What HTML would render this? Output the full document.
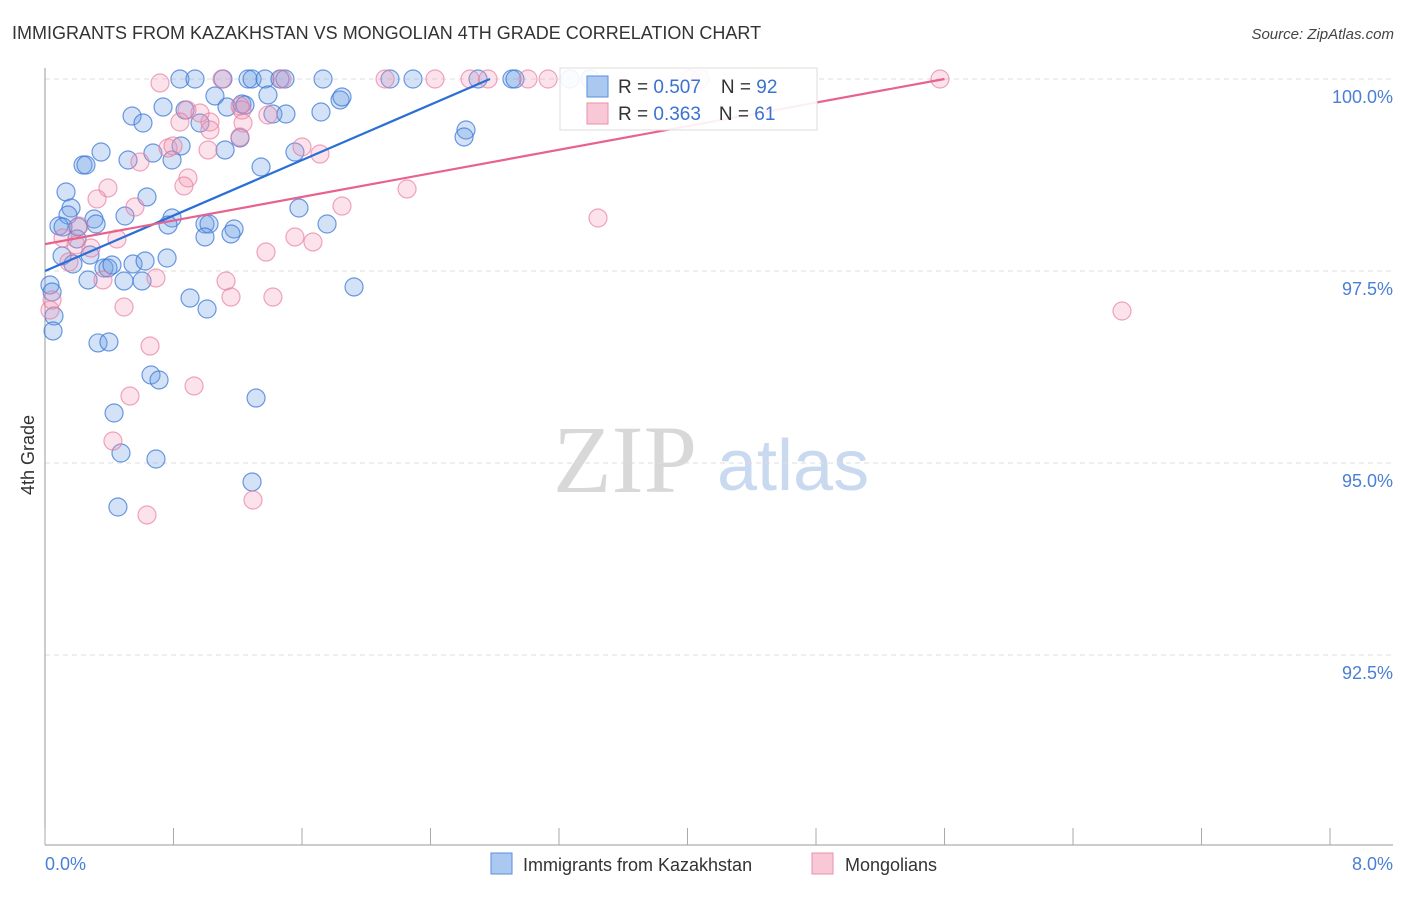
<!DOCTYPE html>
<html><head><meta charset="utf-8"><style>
body{margin:0;background:#fff;font-family:"Liberation Sans",sans-serif}
</style></head><body>
<svg id="chart" width="1406" height="892" xmlns="http://www.w3.org/2000/svg" font-family="Liberation Sans, sans-serif">
<text x="12" y="39" font-size="18" fill="#333">IMMIGRANTS FROM KAZAKHSTAN VS MONGOLIAN 4TH GRADE CORRELATION CHART</text>
<text x="1394" y="39" font-size="15" fill="#444" font-style="italic" text-anchor="end">Source: ZipAtlas.com</text>
<text x="553" y="492" font-size="96" font-family="Liberation Serif, serif" fill="#d8d8d8">ZIP</text>
<text x="717" y="490" font-size="72" fill="#c9d9f0">atlas</text>
<text transform="translate(34,455) rotate(-90)" font-size="18" fill="#333" text-anchor="middle">4th Grade</text>
<g id="grid"></g><g id="axes"></g><g id="pts"></g><g id="lines"></g>
<g>
<rect x="560" y="68" width="257" height="62" fill="#fff" fill-opacity="0.9" stroke="#ddd"/>
<rect x="587" y="76" width="21" height="21" fill="#aac8f0" stroke="#5a8fdc"/>
<rect x="587" y="103" width="21" height="21" fill="#f8c8d6" stroke="#e890aa"/>
<text x="618" y="93" font-size="19" fill="#333">R = <tspan fill="#3a72d0">0.507</tspan><tspan dx="20">N = </tspan><tspan fill="#3a72d0">92</tspan></text>
<text x="618" y="120" font-size="19" fill="#333">R = <tspan fill="#3a72d0"> 0.363</tspan><tspan dx="18">N = </tspan><tspan fill="#3a72d0"> 61</tspan></text>
</g>
<g>
<rect x="491" y="853" width="21" height="21" fill="#aac8f0" stroke="#5a8fdc"/>
<text x="523" y="871" font-size="18" fill="#333">Immigrants from Kazakhstan</text>
<rect x="812" y="853" width="21" height="21" fill="#f8c8d6" stroke="#e890aa"/>
<text x="845" y="871" font-size="18" fill="#333">Mongolians</text>
</g>
</svg>
<script>
const yTicks=[100,97.5,95,92.5];
const yTickLabels=["100.0%","97.5%","95.0%","92.5%"];
const xTicks=[0,0.8,1.6,2.4,3.2,4,4.8,5.6,6.4,7.2,8];
const xAxisLabels=["0.0%","8.0%"];
const bluePx=[[223,79],[248,79],[252,79],[265,79],[280,79],[285,79],[323,79],[390,79],[413,79],[478,79],[512,79],[515,79],[570,79],[590,79],[180,79],[195,79],[163,107],[185,110],[215,96],[227,107],[242,104],[245,105],[268,95],[273,114],[286,114],[321,112],[340,100],[342,97],[132,116],[143,123],[200,123],[181,146],[172,160],[153,153],[128,160],[101,152],[83,165],[86,165],[225,150],[240,138],[261,167],[295,152],[466,130],[464,137],[66,192],[147,197],[71,208],[68,215],[94,219],[125,216],[96,224],[59,226],[78,227],[63,227],[172,218],[168,225],[205,224],[209,224],[234,229],[231,234],[205,237],[299,208],[327,224],[77,239],[90,255],[62,256],[73,264],[104,268],[108,268],[112,265],[133,264],[145,261],[167,258],[88,280],[124,281],[142,281],[190,298],[207,309],[354,287],[50,285],[52,292],[54,316],[53,331],[98,343],[109,342],[151,375],[159,380],[114,413],[256,398],[121,453],[156,459],[252,482],[118,507]];
const pinkPx=[[160,83],[222,79],[282,79],[385,79],[435,79],[470,79],[488,79],[528,79],[548,79],[690,79],[700,79],[940,79],[187,110],[240,106],[242,110],[268,115],[243,123],[210,122],[180,122],[200,113],[210,130],[240,137],[302,147],[168,148],[173,146],[208,150],[140,162],[320,154],[188,178],[184,186],[108,188],[97,199],[135,207],[342,206],[407,189],[598,218],[79,226],[63,238],[76,245],[117,239],[91,248],[69,262],[295,237],[313,242],[266,252],[156,278],[103,280],[226,281],[231,297],[273,297],[124,307],[150,346],[194,386],[130,396],[113,441],[253,500],[147,515],[1122,311],[50,310],[52,300]];
// data values (x = % , y = %)
const blueX=bluePx.map(p=>+((p[0]-45)*8/1285).toFixed(3));
const blueY=bluePx.map(p=>+(100-(p[1]-79)*2.5/192).toFixed(3));
const pinkX=pinkPx.map(p=>+((p[0]-45)*8/1285).toFixed(3));
const pinkY=pinkPx.map(p=>+(100-(p[1]-79)*2.5/192).toFixed(3));
const blueTrend=[[0,97.5],[2.77,100]];
const pinkTrend=[[0,97.85],[5.6,100]];

const NS="http://www.w3.org/2000/svg";
const sx=v=>45+v*1285/8;
const sy=v=>79+(100-v)*192/2.5;
function mk(t,a,parent){const e=document.createElementNS(NS,t);for(const k in a)e.setAttribute(k,a[k]);parent.appendChild(e);return e;}
const grid=document.getElementById('grid'),axes=document.getElementById('axes'),pts=document.getElementById('pts'),lines=document.getElementById('lines');
yTicks.forEach((t,i)=>{
 const l=mk('line',{x1:45,x2:1393,y1:sy(t),y2:sy(t),stroke:'#ddd','stroke-dasharray':'5,4'},grid);
 
 
 const tx=mk('text',{x:1393,y:sy(t)+24,'font-size':18,fill:'#4a7fd6','text-anchor':'end'},grid);
 tx.textContent=yTickLabels[i];
 
 
});
const ya=mk('line',{x1:45,x2:45,y1:68,y2:845,stroke:'#999'},axes);


const xa=mk('line',{x1:45,x2:1393,y1:845,y2:845,stroke:'#999'},axes);


xTicks.forEach(t=>{
 const l=mk('line',{x1:sx(t),x2:sx(t),y1:828,y2:845,stroke:'#aaa'},axes);
 
 
});
const xl0=mk('text',{x:45,y:870,'font-size':18,fill:'#4a7fd6'},axes);xl0.textContent=xAxisLabels[0];


const xl1=mk('text',{x:1393,y:870,'font-size':18,fill:'#4a7fd6','text-anchor':'end'},axes);xl1.textContent=xAxisLabels[1];


function series(X,Y,fill,stroke,name){X.forEach((x,i)=>{
 const c=mk('circle',{cx:sx(x),cy:sy(Y[i]),r:9,fill:fill,stroke:stroke,'stroke-width':1.2},pts);
 
 
});}
series(blueX,blueY,'rgba(110,160,230,0.3)','rgba(60,120,215,0.75)','point-kazakhstan');
series(pinkX,pinkY,'rgba(245,150,180,0.28)','rgba(230,120,155,0.65)','point-mongolians');
const bl=mk('line',{x1:sx(blueTrend[0][0]),y1:sy(blueTrend[0][1]),x2:sx(blueTrend[1][0]),y2:sy(blueTrend[1][1]),stroke:'#2a6fd6','stroke-width':2.2},lines);


const pl=mk('line',{x1:sx(pinkTrend[0][0]),y1:sy(pinkTrend[0][1]),x2:sx(pinkTrend[1][0]),y2:sy(pinkTrend[1][1]),stroke:'#e8628c','stroke-width':2.2},lines);


</script>
</body></html>
